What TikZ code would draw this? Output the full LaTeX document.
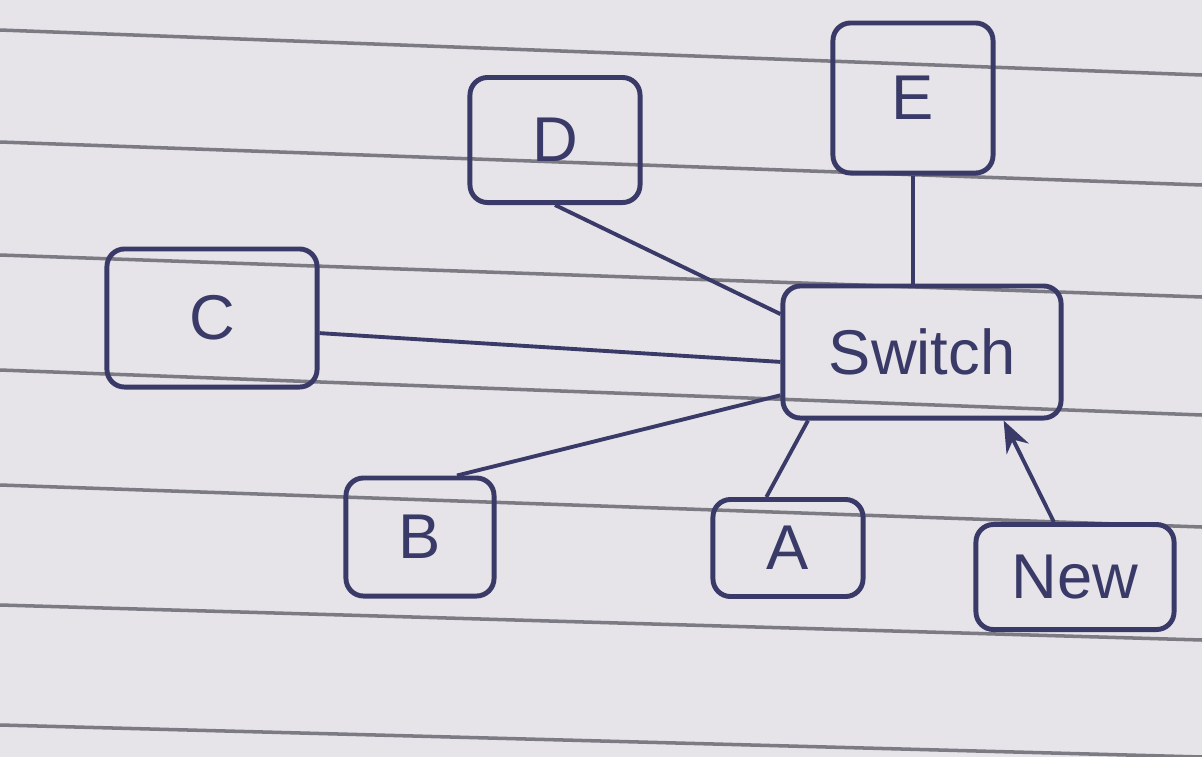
\documentclass[tikz,border=0pt]{standalone}
\usepackage{fontspec}
\setmainfont{Liberation Sans}
\usetikzlibrary{arrows.meta}
\begin{document}
\begin{tikzpicture}[x=0.01cm, y=-0.01cm,
    every node/.style={align=center},
    hostbox/.style={draw=ink, line width=1.4pt, rounded corners=5pt, inner sep=0pt, font=\fontsize{18}{20}\selectfont, text=ink},
    link/.style={draw=ink, line width=1.1pt},
    rule/.style={draw=ruling, line width=1pt}]
  % Ruled notebook page
  \definecolor{paper}{HTML}{E6E4E8}
  \definecolor{ruling}{HTML}{7C7A82}
  \definecolor{ink}{HTML}{3A3A68}
  \fill[paper] (0,0) rectangle (1202,757);
  \useasboundingbox (0,0) rectangle (1202,757);
  \foreach \yl/\yr in {30/75, 142/185, 255/297, 370/415, 485/527, 605/640, 725/757}
    \draw[rule] (0,\yl) -- (1202,\yr);

  % Hosts around the switch
  \node[hostbox, minimum width=2.78cm, minimum height=1.32cm] (switch) at (922,352) {Switch};
  \node[hostbox, minimum width=1.70cm, minimum height=1.25cm] (d) at (555,140) {D};
  \node[hostbox, minimum width=1.60cm, minimum height=1.50cm] (e) at (913,98) {E};
  \node[hostbox, minimum width=2.10cm, minimum height=1.38cm] (c) at (212,318) {C};
  \node[hostbox, minimum width=1.48cm, minimum height=1.18cm] (b) at (420,537) {B};
  \node[hostbox, minimum width=1.50cm, minimum height=0.97cm] (a) at (788,548) {A};
  \node[hostbox, minimum width=1.98cm, minimum height=1.05cm] (new) at (1075,577) {New};

  % Links
  \draw[link] (d.south) -- (switch.165);
  \draw[link] (e.south) -- (e.south |- switch.north);
  \draw[link] (c.-8) -- (switch.184);
  \draw[link] (b.59) -- (switch.197);
  \draw[link] (a.113) -- (switch.211);
  \draw[link, -{Stealth[length=9pt, width=7pt]}] (new.111) -- (switch.-40);
\end{tikzpicture}
\end{document}
